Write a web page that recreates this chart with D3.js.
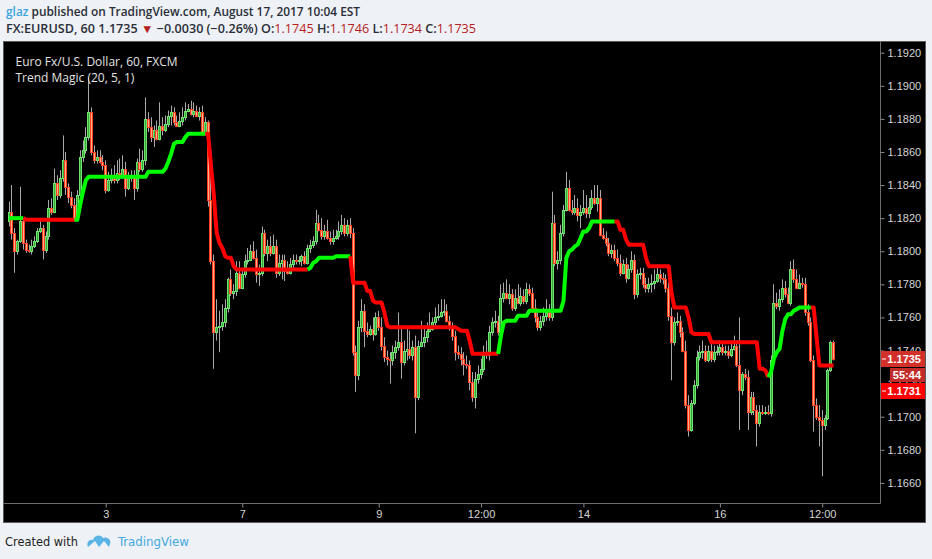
<!DOCTYPE html>
<html><head><meta charset="utf-8">
<script src="https://cdn.jsdelivr.net/npm/d3@7/dist/d3.min.js"></script>
<style>
html,body{margin:0;padding:0;background:#eef1f5;}
svg{display:block;}
</style></head><body>
<svg id="c" width="932" height="559"></svg>
<script>
// ---------------- DATA (EURUSD, 60 min, FXCM) ----------------
const opens = [
1.1818,1.1824,1.1811,1.1800,1.1806,1.1818,1.1805,1.1801,1.1800,1.1803,
1.1806,1.1812,1.1814,1.1801,1.1809,1.1826,1.1824,1.1841,1.1834,1.1844,
1.1855,1.1839,1.1833,1.1828,1.1819,1.1834,1.1857,1.1861,1.1869,1.1884,
1.1860,1.1855,1.1857,1.1854,1.1852,1.1837,1.1843,1.1846,1.1843,1.1847,
1.1845,1.1850,1.1838,1.1844,1.1846,1.1838,1.1854,1.1850,1.1855,1.1880,
1.1875,1.1869,1.1873,1.1868,1.1876,1.1873,1.1877,1.1882,1.1884,1.1878,
1.1876,1.1879,1.1881,1.1885,1.1886,1.1883,1.1885,1.1882,1.1884,1.1872,
1.1878,1.1831,1.1794,1.1751,1.1754,1.1755,1.1757,1.1766,1.1783,1.1775,
1.1776,1.1787,1.1778,1.1786,1.1794,1.1795,1.1800,1.1796,1.1786,1.1787,
1.1811,1.1799,1.1803,1.1799,1.1803,1.1787,1.1793,1.1795,1.1788,1.1787,
1.1792,1.1795,1.1794,1.1795,1.1797,1.1793,1.1802,1.1804,1.1806,1.1817,
1.1813,1.1809,1.1812,1.1808,1.1806,1.1808,1.1809,1.1812,1.1816,1.1811,
1.1816,1.1811,1.1739,1.1725,1.1754,1.1764,1.1752,1.1750,1.1753,1.1750,
1.1760,1.1754,1.1743,1.1736,1.1735,1.1734,1.1739,1.1742,1.1745,1.1733,
1.1740,1.1741,1.1737,1.1742,1.1712,1.1743,1.1745,1.1748,1.1752,1.1753,
1.1757,1.1760,1.1761,1.1763,1.1764,1.1758,1.1754,1.1749,1.1739,1.1738,
1.1735,1.1732,1.1731,1.1721,1.1712,1.1723,1.1726,1.1729,1.1739,1.1737,
1.1751,1.1757,1.1758,1.1751,1.1772,1.1775,1.1772,1.1774,1.1766,1.1772,
1.1769,1.1773,1.1770,1.1777,1.1775,1.1766,1.1760,1.1754,1.1758,1.1761,
1.1763,1.1760,1.1817,1.1793,1.1795,1.1811,1.1825,1.1838,1.1825,1.1824,
1.1826,1.1822,1.1824,1.1826,1.1823,1.1827,1.1832,1.1829,1.1832,1.1810,
1.1808,1.1805,1.1799,1.1801,1.1796,1.1793,1.1787,1.1792,1.1784,1.1789,
1.1795,1.1774,1.1786,1.1787,1.1780,1.1778,1.1780,1.1781,1.1782,1.1786,
1.1784,1.1783,1.1778,1.1761,1.1745,1.1757,1.1758,1.1751,1.1740,1.1707,
1.1692,1.1708,1.1719,1.1736,1.1739,1.1740,1.1734,1.1740,1.1735,1.1739,
1.1740,1.1742,1.1739,1.1740,1.1737,1.1741,1.1743,1.1731,1.1716,1.1726,
1.1724,1.1703,1.1712,1.1704,1.1696,1.1703,1.1702,1.1703,1.1702,1.1734,
1.1769,1.1767,1.1771,1.1778,1.1774,1.1769,1.1789,1.1783,1.1778,1.1781,
1.1780,1.1763,1.1757,1.1734,1.1707,1.1700,1.1698,1.1695,1.1699,1.1728,
1.1745];
const highs = [
1.1830,1.1840,1.1814,1.1807,1.1839,1.1820,1.1807,1.1804,1.1807,1.1809,
1.1814,1.1819,1.1816,1.1812,1.1831,1.1832,1.1850,1.1846,1.1849,1.1870,
1.1860,1.1841,1.1836,1.1832,1.1837,1.1861,1.1867,1.1875,1.1905,1.1887,
1.1864,1.1861,1.1861,1.1858,1.1855,1.1848,1.1850,1.1852,1.1855,1.1856,
1.1858,1.1854,1.1848,1.1849,1.1849,1.1856,1.1862,1.1861,1.1893,1.1884,
1.1881,1.1876,1.1879,1.1890,1.1881,1.1882,1.1885,1.1888,1.1887,1.1882,
1.1884,1.1887,1.1890,1.1889,1.1891,1.1890,1.1888,1.1887,1.1888,1.1881,
1.1879,1.1846,1.1798,1.1771,1.1764,1.1768,1.1771,1.1784,1.1789,1.1780,
1.1794,1.1794,1.1790,1.1798,1.1802,1.1804,1.1806,1.1801,1.1792,1.1815,
1.1813,1.1807,1.1809,1.1810,1.1807,1.1798,1.1798,1.1798,1.1794,1.1796,
1.1798,1.1798,1.1797,1.1798,1.1800,1.1804,1.1807,1.1809,1.1825,1.1822,
1.1820,1.1816,1.1819,1.1812,1.1813,1.1813,1.1818,1.1822,1.1820,1.1819,
1.1820,1.1814,1.1743,1.1758,1.1771,1.1768,1.1757,1.1755,1.1760,1.1763,
1.1764,1.1760,1.1748,1.1740,1.1739,1.1743,1.1746,1.1763,1.1755,1.1746,
1.1754,1.1752,1.1746,1.1749,1.1746,1.1758,1.1755,1.1757,1.1763,1.1760,
1.1766,1.1768,1.1771,1.1771,1.1768,1.1761,1.1757,1.1752,1.1743,1.1742,
1.1739,1.1737,1.1734,1.1727,1.1727,1.1731,1.1735,1.1743,1.1746,1.1755,
1.1760,1.1764,1.1761,1.1780,1.1781,1.1783,1.1780,1.1777,1.1777,1.1780,
1.1778,1.1777,1.1781,1.1780,1.1778,1.1771,1.1763,1.1761,1.1766,1.1771,
1.1768,1.1836,1.1822,1.1800,1.1816,1.1828,1.1848,1.1843,1.1831,1.1834,
1.1832,1.1828,1.1837,1.1834,1.1832,1.1837,1.1840,1.1840,1.1837,1.1814,
1.1812,1.1808,1.1804,1.1804,1.1801,1.1798,1.1795,1.1796,1.1792,1.1800,
1.1798,1.1789,1.1790,1.1790,1.1784,1.1784,1.1786,1.1789,1.1792,1.1789,
1.1787,1.1786,1.1781,1.1766,1.1760,1.1763,1.1761,1.1754,1.1746,1.1713,
1.1710,1.1722,1.1740,1.1743,1.1746,1.1743,1.1743,1.1745,1.1743,1.1743,
1.1746,1.1745,1.1743,1.1743,1.1746,1.1749,1.1746,1.1760,1.1727,1.1729,
1.1728,1.1715,1.1715,1.1707,1.1707,1.1707,1.1706,1.1707,1.1737,1.1780,
1.1775,1.1777,1.1783,1.1782,1.1778,1.1794,1.1795,1.1789,1.1786,1.1784,
1.1784,1.1768,1.1760,1.1737,1.1711,1.1707,1.1704,1.1701,1.1729,1.1746,
1.1746];
const lows = [
1.1815,1.1807,1.1787,1.1798,1.1805,1.1801,1.1799,1.1799,1.1798,1.1802,
1.1805,1.1811,1.1795,1.1799,1.1807,1.1822,1.1823,1.1831,1.1832,1.1842,
1.1834,1.1829,1.1826,1.1818,1.1818,1.1832,1.1854,1.1859,1.1867,1.1858,
1.1853,1.1853,1.1853,1.1849,1.1835,1.1836,1.1841,1.1841,1.1841,1.1843,
1.1844,1.1833,1.1837,1.1842,1.1831,1.1836,1.1848,1.1848,1.1852,1.1872,
1.1866,1.1863,1.1867,1.1867,1.1870,1.1872,1.1875,1.1876,1.1876,1.1875,
1.1875,1.1876,1.1879,1.1884,1.1882,1.1881,1.1881,1.1879,1.1870,1.1870,
1.1827,1.1792,1.1729,1.1746,1.1739,1.1752,1.1754,1.1763,1.1773,1.1771,
1.1773,1.1777,1.1777,1.1784,1.1792,1.1794,1.1795,1.1781,1.1779,1.1785,
1.1797,1.1794,1.1797,1.1798,1.1784,1.1785,1.1783,1.1782,1.1786,1.1786,
1.1790,1.1792,1.1792,1.1791,1.1792,1.1792,1.1799,1.1802,1.1804,1.1812,
1.1807,1.1807,1.1807,1.1804,1.1804,1.1807,1.1807,1.1810,1.1809,1.1809,
1.1808,1.1737,1.1715,1.1722,1.1751,1.1742,1.1748,1.1749,1.1746,1.1749,
1.1752,1.1740,1.1733,1.1731,1.1720,1.1731,1.1735,1.1740,1.1723,1.1731,
1.1734,1.1735,1.1734,1.1690,1.1710,1.1742,1.1742,1.1745,1.1751,1.1752,
1.1755,1.1758,1.1760,1.1761,1.1757,1.1752,1.1746,1.1734,1.1735,1.1731,
1.1725,1.1729,1.1716,1.1709,1.1705,1.1720,1.1723,1.1727,1.1735,1.1734,
1.1749,1.1754,1.1749,1.1749,1.1769,1.1771,1.1768,1.1764,1.1764,1.1768,
1.1767,1.1768,1.1768,1.1773,1.1763,1.1757,1.1752,1.1752,1.1755,1.1758,
1.1758,1.1758,1.1791,1.1789,1.1792,1.1809,1.1824,1.1824,1.1822,1.1822,
1.1818,1.1814,1.1822,1.1820,1.1820,1.1825,1.1828,1.1824,1.1809,1.1807,
1.1803,1.1797,1.1796,1.1794,1.1791,1.1785,1.1786,1.1781,1.1783,1.1787,
1.1771,1.1772,1.1783,1.1778,1.1775,1.1775,1.1775,1.1777,1.1781,1.1781,
1.1780,1.1775,1.1758,1.1722,1.1743,1.1755,1.1748,1.1739,1.1705,1.1688,
1.1691,1.1707,1.1717,1.1734,1.1735,1.1733,1.1733,1.1733,1.1733,1.1737,
1.1737,1.1737,1.1737,1.1735,1.1736,1.1740,1.1730,1.1692,1.1713,1.1722,
1.1692,1.1701,1.1701,1.1682,1.1694,1.1701,1.1701,1.1701,1.1700,1.1733,
1.1765,1.1764,1.1769,1.1772,1.1768,1.1767,1.1781,1.1777,1.1777,1.1778,
1.1761,1.1755,1.1733,1.1691,1.1698,1.1682,1.1664,1.1692,1.1698,1.1727,
1.1734];
const closes = [
1.1824,1.1811,1.1800,1.1806,1.1818,1.1805,1.1801,1.1800,1.1803,1.1806,
1.1812,1.1814,1.1801,1.1809,1.1826,1.1824,1.1841,1.1834,1.1844,1.1855,
1.1839,1.1833,1.1828,1.1819,1.1834,1.1857,1.1861,1.1869,1.1884,1.1860,
1.1855,1.1857,1.1854,1.1852,1.1837,1.1843,1.1846,1.1843,1.1847,1.1845,
1.1850,1.1838,1.1844,1.1846,1.1838,1.1854,1.1850,1.1855,1.1880,1.1875,
1.1869,1.1873,1.1868,1.1876,1.1873,1.1877,1.1882,1.1884,1.1878,1.1876,
1.1879,1.1881,1.1885,1.1886,1.1883,1.1885,1.1882,1.1884,1.1872,1.1878,
1.1831,1.1794,1.1751,1.1754,1.1755,1.1757,1.1766,1.1783,1.1775,1.1776,
1.1787,1.1778,1.1786,1.1794,1.1795,1.1800,1.1796,1.1786,1.1787,1.1811,
1.1799,1.1803,1.1799,1.1803,1.1787,1.1793,1.1795,1.1788,1.1787,1.1792,
1.1795,1.1794,1.1795,1.1797,1.1793,1.1802,1.1804,1.1806,1.1817,1.1813,
1.1809,1.1812,1.1808,1.1806,1.1808,1.1809,1.1812,1.1816,1.1811,1.1816,
1.1811,1.1739,1.1725,1.1754,1.1764,1.1752,1.1750,1.1753,1.1750,1.1760,
1.1754,1.1743,1.1736,1.1735,1.1734,1.1739,1.1742,1.1745,1.1733,1.1740,
1.1741,1.1737,1.1742,1.1712,1.1743,1.1745,1.1748,1.1752,1.1753,1.1757,
1.1760,1.1761,1.1763,1.1764,1.1758,1.1754,1.1749,1.1739,1.1738,1.1735,
1.1732,1.1731,1.1721,1.1712,1.1723,1.1726,1.1729,1.1739,1.1737,1.1751,
1.1757,1.1758,1.1751,1.1772,1.1775,1.1772,1.1774,1.1766,1.1772,1.1769,
1.1773,1.1770,1.1777,1.1775,1.1766,1.1760,1.1754,1.1758,1.1761,1.1763,
1.1760,1.1817,1.1793,1.1795,1.1811,1.1825,1.1838,1.1825,1.1824,1.1826,
1.1822,1.1824,1.1826,1.1823,1.1827,1.1832,1.1829,1.1832,1.1810,1.1808,
1.1805,1.1799,1.1801,1.1796,1.1793,1.1787,1.1792,1.1784,1.1789,1.1795,
1.1774,1.1786,1.1787,1.1780,1.1778,1.1780,1.1781,1.1782,1.1786,1.1784,
1.1783,1.1778,1.1761,1.1745,1.1757,1.1758,1.1751,1.1740,1.1707,1.1692,
1.1708,1.1719,1.1736,1.1739,1.1740,1.1734,1.1740,1.1735,1.1739,1.1740,
1.1742,1.1739,1.1740,1.1737,1.1741,1.1743,1.1731,1.1716,1.1726,1.1724,
1.1703,1.1712,1.1704,1.1696,1.1703,1.1702,1.1703,1.1702,1.1734,1.1769,
1.1767,1.1771,1.1778,1.1774,1.1769,1.1789,1.1783,1.1778,1.1781,1.1780,
1.1763,1.1757,1.1734,1.1707,1.1700,1.1698,1.1695,1.1699,1.1728,1.1745,
1.1735];
// Trend Magic (20, 5, 1) value per bar
const trendMagic = [
1.1820,1.1820,1.1820,1.1820,1.1820,1.1820,1.1819,1.1819,1.1819,1.1819,
1.1819,1.1819,1.1819,1.1819,1.1819,1.1819,1.1819,1.1819,1.1819,1.1819,
1.1819,1.1819,1.1819,1.1819,1.1819,1.1828,1.1836,1.1843,1.1845,1.1845,
1.1845,1.1845,1.1845,1.1845,1.1845,1.1845,1.1845,1.1845,1.1845,1.1845,
1.1845,1.1845,1.1845,1.1845,1.1845,1.1845,1.1845,1.1845,1.1845,1.1848,
1.1848,1.1848,1.1848,1.1848,1.1848,1.1850,1.1854,1.1859,1.1865,1.1866,
1.1866,1.1866,1.1869,1.1871,1.1871,1.1871,1.1871,1.1871,1.1871,1.1871,
1.1871,1.1852,1.1834,1.1811,1.1805,1.1802,1.1797,1.1796,1.1796,1.1791,
1.1789,1.1789,1.1789,1.1789,1.1789,1.1789,1.1789,1.1789,1.1789,1.1789,
1.1789,1.1789,1.1789,1.1789,1.1789,1.1789,1.1789,1.1789,1.1789,1.1789,
1.1789,1.1789,1.1789,1.1789,1.1789,1.1789,1.1790,1.1793,1.1794,1.1796,
1.1796,1.1796,1.1796,1.1796,1.1796,1.1797,1.1797,1.1797,1.1797,1.1797,
1.1797,1.1781,1.1781,1.1781,1.1781,1.1781,1.1776,1.1776,1.1770,1.1769,
1.1769,1.1769,1.1763,1.1755,1.1754,1.1754,1.1754,1.1754,1.1754,1.1754,
1.1754,1.1754,1.1754,1.1754,1.1754,1.1754,1.1754,1.1754,1.1754,1.1754,
1.1754,1.1754,1.1754,1.1754,1.1754,1.1754,1.1754,1.1754,1.1753,1.1752,
1.1752,1.1752,1.1746,1.1738,1.1738,1.1738,1.1738,1.1738,1.1738,1.1738,
1.1738,1.1738,1.1738,1.1749,1.1757,1.1758,1.1758,1.1758,1.1758,1.1761,
1.1761,1.1761,1.1761,1.1764,1.1764,1.1764,1.1764,1.1764,1.1764,1.1764,
1.1764,1.1764,1.1764,1.1764,1.1764,1.1770,1.1796,1.1800,1.1801,1.1803,
1.1804,1.1808,1.1812,1.1812,1.1814,1.1818,1.1818,1.1818,1.1818,1.1818,
1.1818,1.1818,1.1818,1.1818,1.1818,1.1813,1.1813,1.1807,1.1804,1.1804,
1.1804,1.1804,1.1804,1.1804,1.1796,1.1791,1.1791,1.1791,1.1791,1.1791,
1.1791,1.1791,1.1791,1.1775,1.1766,1.1766,1.1766,1.1766,1.1766,1.1760,
1.1751,1.1750,1.1750,1.1750,1.1750,1.1750,1.1750,1.1745,1.1745,1.1745,
1.1745,1.1745,1.1745,1.1745,1.1745,1.1745,1.1745,1.1745,1.1745,1.1745,
1.1745,1.1745,1.1745,1.1745,1.1729,1.1729,1.1728,1.1724,1.1727,1.1735,
1.1739,1.1741,1.1752,1.1759,1.1762,1.1762,1.1764,1.1765,1.1766,1.1766,
1.1766,1.1766,1.1766,1.1766,1.1748,1.1731,1.1731,1.1731,1.1731,1.1731,
1.1731];
// Trend Magic colour runs: [first bar, last bar, 1 = up (green) / 0 = down (red)]
const trendRuns = [[0,5,1],[6,23,0],[24,69,1],[70,105,0],[106,120,1],[121,172,0],[173,213,1],[214,267,0],[268,282,1],[283,290,0]];
const timeTickBars = [34,82,130,166,202,250,286];
const timeTickLabels = ["3","7","9","12:00","14","16","12:00"];
const priceTicks = [1.1660,1.1680,1.1700,1.1720,1.1740,1.1760,1.1780,1.1800,1.1820,1.1840,1.1860,1.1880,1.1900,1.1920];
const lastClose = 1.1735, lastTrend = 1.1731, countdown = "55:44";

// ---------------- DRAW ----------------
const svg = d3.select("#c");
const W = 932, H = 559;
const plotL = 3, plotR = 880, plotT = 41, plotB = 503;
svg.append("rect").attr("width", W).attr("height", H).attr("fill", "#eef1f5");
svg.append("rect").attr("x", 3.5).attr("y", 41.5).attr("width", 922).attr("height", 481)
  .attr("fill", "#000").attr("stroke", "#5a5a5a");

const x = d3.scaleLinear().domain([0, 290]).range([9.1, 833.6]);
const y = d3.scaleLinear().domain([1.1660, 1.1920]).range([482.9, 52.7]);

svg.append("clipPath").attr("id", "clip").append("rect")
  .attr("x", plotL + 1).attr("y", plotT + 1).attr("width", plotR - plotL - 1).attr("height", plotB - plotT - 1);
const g = svg.append("g").attr("clip-path", "url(#clip)");

const bars = d3.range(closes.length);
const UP_FILL = "#37a837", UP_EDGE = "#6fe36f", DN_FILL = "#ffb08a", DN_EDGE = "#ff3d1f";
// wicks
g.selectAll("line.w").data(bars).join("line").attr("class", "w")
  .attr("x1", i => Math.round(x(i) - 1.5) + 1.5).attr("x2", i => Math.round(x(i) - 1.5) + 1.5)
  .attr("y1", i => y(highs[i])).attr("y2", i => y(lows[i]))
  .attr("stroke", "#a9a9a9").attr("stroke-width", 1);
// bodies
g.selectAll("rect.b").data(bars).join("rect").attr("class", "b")
  .attr("x", i => Math.round(x(i) - 1.5) + 0.5).attr("width", 2)
  .attr("y", i => Math.round(y(Math.max(opens[i], closes[i]))) + 0.5)
  .attr("height", i => Math.max(1, Math.round(y(Math.min(opens[i], closes[i]))) - Math.round(y(Math.max(opens[i], closes[i])))))
  .attr("fill", i => closes[i] >= opens[i] ? UP_FILL : DN_FILL)
  .attr("stroke", i => closes[i] >= opens[i] ? UP_EDGE : DN_EDGE).attr("stroke-width", 1);

// Trend Magic line
const tl = d3.line().x(i => x(i)).y(i => y(trendMagic[i]));
trendRuns.forEach(([a, b, up]) => {
  const pts = d3.range(Math.max(0, a - 1), b + 1);
  g.append("path").attr("d", tl(pts)).attr("fill", "none")
    .attr("stroke", up ? "#00ff00" : "#ff0000").attr("stroke-width", 4)
    .attr("stroke-linejoin", "round");
});

// plot borders
svg.append("line").attr("x1", plotR + 0.5).attr("x2", plotR + 0.5).attr("y1", plotT).attr("y2", plotB + 0.5).attr("stroke", "#6d6d6d");
svg.append("line").attr("x1", plotL).attr("x2", plotR + 0.5).attr("y1", plotB + 0.5).attr("y2", plotB + 0.5).attr("stroke", "#6d6d6d");

// price axis
const ya = svg.append("g").attr("transform", `translate(${plotR + 0.5},0)`)
  .call(d3.axisRight(y).tickValues(priceTicks).tickSize(4).tickPadding(3).tickFormat(d3.format(".4f")));
ya.select(".domain").remove();
ya.selectAll("line").attr("stroke", "#8a8a8a");
ya.selectAll("text").attr("fill", "#d6d6d6").style("font", "11px 'Liberation Sans', Arial, sans-serif");

// time axis
const xa = svg.append("g").attr("transform", `translate(0,${plotB + 0.5})`)
  .call(d3.axisBottom(x).tickValues(timeTickBars).tickSize(4).tickPadding(3).tickFormat((d, k) => timeTickLabels[k]));
xa.select(".domain").remove();
xa.selectAll("line").attr("stroke", "#8a8a8a");
xa.selectAll("text").attr("fill", "#d6d6d6").style("font", "11px 'Liberation Sans', Arial, sans-serif");

// price labels on the axis (stacked like the original: close, countdown, trend value)
const lab = svg.append("g").style("font", "bold 11px 'Liberation Sans', Arial, sans-serif");
function priceBox(top, h, txt, fill, x0, dash) {
  lab.append("rect").attr("x", x0).attr("y", top).attr("width", 925 - x0).attr("height", h).attr("fill", fill);
  if (dash) lab.append("line").attr("x1", x0 + 1).attr("x2", x0 + 5).attr("y1", top + h / 2).attr("y2", top + h / 2).attr("stroke", "#fff");
  lab.append("text").attr("x", 921).attr("y", top + h / 2 + 4).attr("text-anchor", "end").attr("fill", "#fff").text(txt);
}
const c0 = Math.round(y(lastClose));
priceBox(c0 - 8, 16, d3.format(".4f")(lastClose), "#d2302b", 881, true);
priceBox(c0 + 9, 14, countdown, "#c22b27", 890, false);
priceBox(c0 + 24, 16, d3.format(".4f")(lastTrend), "#ff0000", 881, true);

// legend inside chart
const leg = svg.append("g").style("font", "12px 'Open Sans', sans-serif").attr("fill", "#e2e2e2");
leg.append("text").attr("x", 15.5).attr("y", 65.5).text("Euro Fx/U.S. Dollar, 60, FXCM");
leg.append("text").attr("x", 15.5).attr("y", 82).text("Trend Magic (20, 5, 1)");

// header
const hd = svg.append("g").style("font", "600 12px 'Open Sans', sans-serif");
const t1 = hd.append("text").attr("x", 6).attr("y", 16).attr("textLength", 354).attr("lengthAdjust", "spacingAndGlyphs");
t1.append("tspan").attr("fill", "#3ba4e0").text("glaz");
t1.append("tspan").attr("fill", "#2a2e39").text(" published on TradingView.com, August 17, 2017 10:04 EST");
const t2 = hd.append("text").attr("x", 6).attr("y", 33).attr("textLength", 470).attr("lengthAdjust", "spacingAndGlyphs");
const dark = "#2a2e39", red = "#b7211d";
[["FX:EURUSD, 60  1.1735 ", dark], ["\u25BC", red], [" \u22120.0030 (\u22120.26%) ", dark],
 ["O:", dark], ["1.1745", red], [" H:", dark], ["1.1746", red], [" L:", dark], ["1.1734", red], [" C:", dark], ["1.1735", red]]
 .forEach(([s, c]) => t2.append("tspan").attr("fill", c).attr("font-weight", c === red ? 400 : 600).text(s));

// footer
const ft = svg.append("g");
ft.append("text").attr("x", 5).attr("y", 546).attr("textLength", 73).attr("lengthAdjust", "spacingAndGlyphs")
  .style("font", "13px 'Liberation Sans Narrow','DejaVu Sans Condensed', sans-serif").attr("fill", "#1e1e1e").text("Created with");
ft.append("path").attr("fill", "#5ab5e6")
  .attr("d", "M88,547 C86,543 89,539 93,540 C94,535 101,534 103,538 C107,536 112,540 110,544 L109,547 L104,541 L99,547 L95,541 Z");
ft.append("text").attr("x", 118).attr("y", 546).attr("textLength", 71).attr("lengthAdjust", "spacingAndGlyphs")
  .style("font", "13px 'Liberation Sans Narrow','DejaVu Sans Condensed', sans-serif").attr("fill", "#45a9e0").text("TradingView");
</script>
</body></html>
